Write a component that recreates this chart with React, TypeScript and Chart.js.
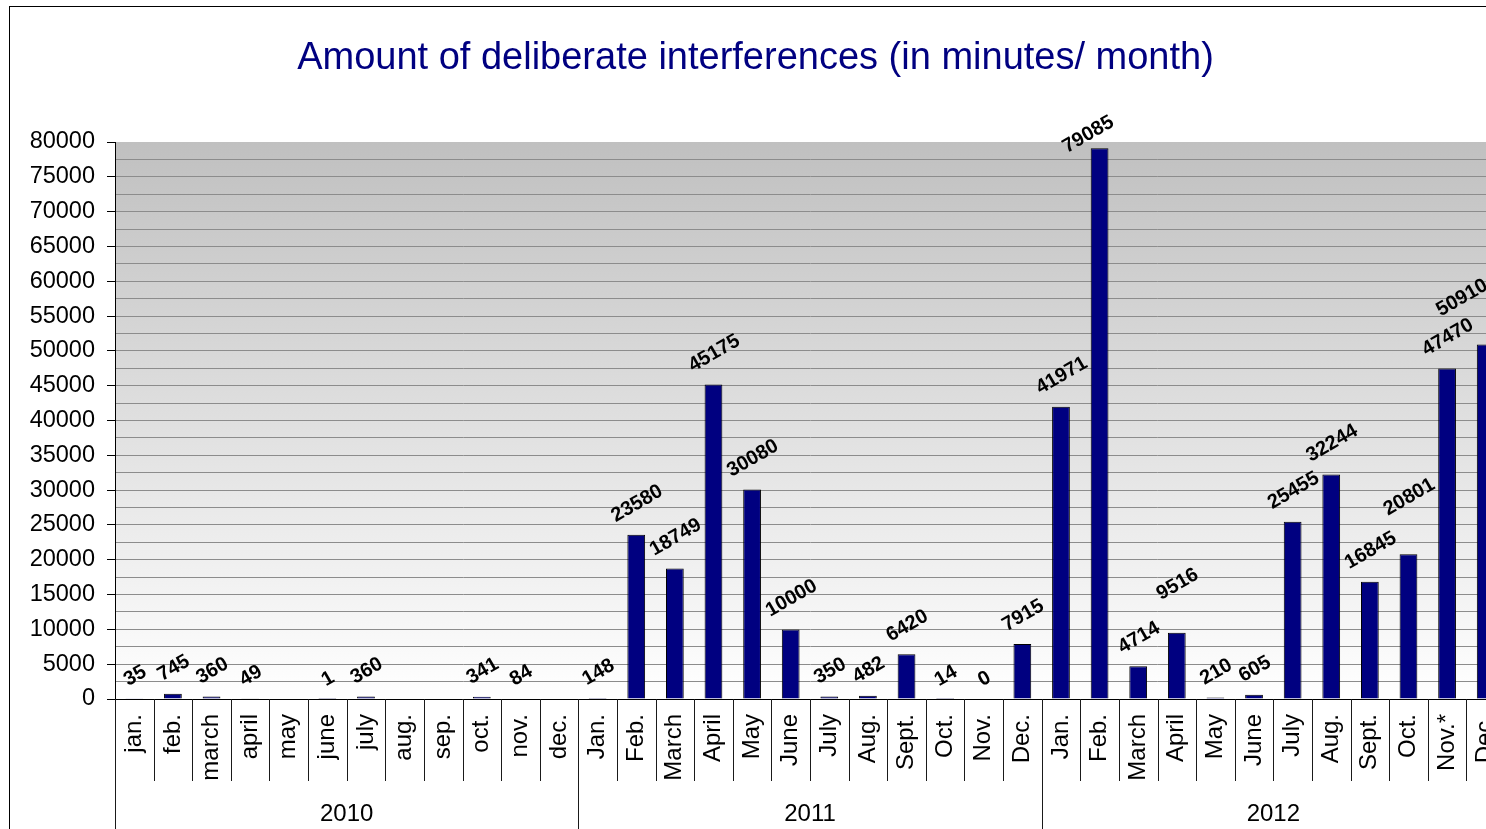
import React, { useEffect, useRef } from 'react';
import { Chart, registerables } from 'chart.js';

Chart.register(...registerables);

const TITLE = 'Amount of deliberate interferences (in minutes/ month)';
const FONT = '"Liberation Sans", Arial, sans-serif';

const years = ['2010', '2011', '2012'];
const months2010 = ['jan.', 'feb.', 'march', 'april', 'may', 'june', 'july', 'aug.', 'sep.', 'oct.', 'nov.', 'dec.'];
const months2011 = ['Jan.', 'Feb.', 'March', 'April', 'May', 'June', 'July', 'Aug.', 'Sept.', 'Oct.', 'Nov.', 'Dec.'];
const months2012 = ['Jan.', 'Feb.', 'March', 'April', 'May', 'June', 'July', 'Aug.', 'Sept.', 'Oct.', 'Nov.*', 'Dec.'];

const values2010: (number | null)[] = [35, 745, 360, 49, null, 1, 360, null, null, 341, 84, null];
const values2011: (number | null)[] = [148, 23580, 18749, 45175, 30080, 10000, 350, 482, 6420, 14, 0, 7915];
const values2012: (number | null)[] = [41971, 79085, 4714, 9516, 210, 605, 25455, 32244, 16845, 20801, 47470, 50910];

const Y_MIN = 0;
const Y_MAX = 80000;
const Y_STEP = 2500;
const Y_LABEL_STEP = 5000;

const categories = [...months2010, ...months2011, ...months2012];
const values = [...values2010, ...values2011, ...values2012];

const CANVAS_W = 1530;
const CANVAS_H = 828;

const backgroundPlugin = {
  id: 'plotBackground',
  beforeDraw(chart: any) {
    const { ctx, chartArea: a } = chart;
    const g = ctx.createLinearGradient(0, a.top, 0, a.bottom);
    g.addColorStop(0, '#c0c0c0');
    g.addColorStop(1, '#ffffff');
    ctx.save();
    ctx.fillStyle = g;
    ctx.fillRect(a.left, a.top, a.right - a.left, a.bottom - a.top);
    ctx.restore();
  },
};

const separatorPlugin = {
  id: 'categorySeparators',
  afterDraw(chart: any) {
    const { ctx, chartArea: a } = chart;
    const n = categories.length;
    const perYear = n / years.length;
    const w = (a.right - a.left) / n;
    ctx.save();
    ctx.strokeStyle = '#1a1a1a';
    ctx.lineWidth = 1;
    ctx.beginPath();
    for (let i = 0; i <= n; i++) {
      const x = Math.round(a.left + i * w) + 0.5;
      const isYear = i % perYear === 0;
      ctx.moveTo(x, a.bottom);
      ctx.lineTo(x, isYear ? chart.height : a.bottom + 82);
    }
    ctx.stroke();
    ctx.restore();
  },
};

const valueLabelPlugin = {
  id: 'valueLabels',
  afterDatasetsDraw(chart: any) {
    const { ctx } = chart;
    const meta = chart.getDatasetMeta(0);
    const ang = (30 * Math.PI) / 180;
    const cos = Math.cos(ang);
    const sin = Math.sin(ang);
    const size = 20;
    const capH = size * 0.716;
    const gap = 12.5;
    const topLimit = 106;
    const rightLimit = 1483;
    const marginU = 10;
    const nTrigger = 20;
    const nSpacing = 27;
    ctx.save();
    ctx.font = `bold ${size}px ${FONT}`;
    ctx.fillStyle = '#000';
    ctx.textAlign = 'center';
    ctx.textBaseline = 'alphabetic';
    let prev: { cx: number; cy: number; w: number } | null = null;
    meta.data.forEach((el: any, i: number) => {
      const v = values[i];
      if (v === null || v === undefined) return;
      const text = String(v);
      const w = ctx.measureText(text).width;
      const boxW = w * cos + capH * sin;
      const boxH = w * sin + capH * cos;
      let cx = el.x;
      let cy = el.y - gap - boxH / 2;
      if (cy - boxH / 2 < topLimit) {
        const d = topLimit - (cy - boxH / 2);
        cy += d;
        cx -= d * 0.7;
      }
      if (cx + boxW / 2 > rightLimit) {
        cx -= cx + boxW / 2 - rightLimit;
      }
      if (prev) {
        const dx = cx - prev.cx;
        const dy = cy - prev.cy;
        const du = dx * cos - dy * sin;
        const dn = dx * sin + dy * cos;
        const need = (w + prev.w) / 2 + marginU;
        if (dn < 0 && -dn < nTrigger && Math.abs(du) < need) {
          cy -= (nSpacing + dn) / cos;
        }
      }
      prev = { cx, cy, w };
      ctx.save();
      ctx.translate(cx, cy);
      ctx.rotate(-ang);
      ctx.fillText(text, 0, capH / 2);
      ctx.restore();
    });
    ctx.restore();
  },
};

export default function App() {
  const ref = useRef<HTMLCanvasElement | null>(null);

  useEffect(() => {
    if (!ref.current) return;
    const chart = new Chart(ref.current, {
      type: 'bar',
      data: {
        labels: categories,
        datasets: [
          {
            data: values as any,
            backgroundColor: '#000080',
            borderColor: '#000000',
            borderWidth: 1,
            barPercentage: 0.46,
            categoryPercentage: 1,
          },
        ],
      },
      options: {
        responsive: false,
        devicePixelRatio: 1,
        animation: false,
        layout: { padding: { left: 0, right: CANVAS_W - 1499, top: 0, bottom: 0 } },
        plugins: {
          legend: { display: false },
          tooltip: { enabled: false },
          title: {
            display: true,
            text: TITLE,
            color: '#000080',
            font: { family: FONT, size: 38, weight: 'normal' as any },
            padding: { top: 29, bottom: 60.4 },
          },
        },
        scales: {
          x: {
            type: 'category',
            offset: true,
            weight: 0,
            grid: { display: false, drawTicks: false },
            border: { display: true, color: '#000000', width: 1 },
            ticks: {
              autoSkip: false,
              minRotation: 90,
              maxRotation: 90,
              padding: 15,
              color: '#000000',
              font: { family: FONT, size: 24 },
            },
            afterFit: (s: any) => {
              s.height = 96;
            },
          },
          x2: {
            type: 'category',
            labels: years,
            offset: true,
            position: 'bottom',
            weight: 1,
            grid: { display: false, drawTicks: false },
            border: { display: false },
            ticks: {
              autoSkip: false,
              maxRotation: 0,
              padding: 5,
              color: '#000000',
              font: { family: FONT, size: 24 },
            },
            afterFit: (s: any) => {
              s.height = 40;
            },
          },
          y: {
            min: Y_MIN,
            max: Y_MAX,
            grid: {
              color: (c: any) => (c.tick && c.tick.value >= Y_MAX ? 'rgba(0,0,0,0)' : '#8c8c8c'),
              tickLength: 8,
              tickColor: (c: any) => (c.tick && c.tick.value % Y_LABEL_STEP === 0 ? '#000000' : 'rgba(0,0,0,0)'),
            },
            border: { display: true, color: '#000000', width: 1 },
            ticks: {
              stepSize: Y_STEP,
              autoSkip: false,
              padding: 12,
              color: '#000000',
              font: { family: FONT, size: 23.5 },
              callback: (v: any) => (Number(v) % Y_LABEL_STEP === 0 ? String(v) : ''),
            },
            afterFit: (s: any) => {
              s.width = 109;
            },
          },
        } as any,
      },
      plugins: [backgroundPlugin, separatorPlugin, valueLabelPlugin],
    });
    return () => chart.destroy();
  }, []);

  return (
    <div
      style={{
        position: 'absolute',
        left: 9,
        top: 6,
        width: 1477,
        height: 823,
        borderLeft: '1px solid #000',
        borderTop: '1px solid #000',
        boxSizing: 'border-box',
        overflow: 'hidden',
        background: '#fff',
      }}
    >
      <canvas
        ref={ref}
        width={CANVAS_W}
        height={CANVAS_H}
        style={{ position: 'absolute', left: -4, top: 0, width: CANVAS_W, height: CANVAS_H }}
      />
    </div>
  );
}
